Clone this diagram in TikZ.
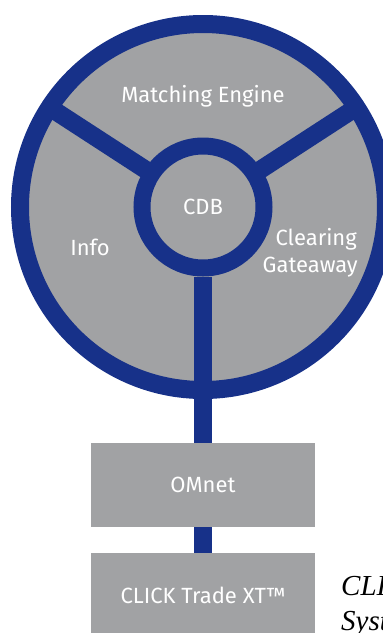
\documentclass[tikz,border=0pt]{standalone}
\usepackage{fontspec}
\setmainfont{Fira Sans}
\newfontfamily\capfont{Liberation Serif}
\definecolor{ringblue}{RGB}{23,49,137}
\definecolor{segray}{RGB}{161,162,164}
\begin{document}
\begin{tikzpicture}[x=1pt,y=1pt,
  lbl/.style={text=white,font=\fontsize{22}{27}\selectfont,inner sep=0pt},
  boxnode/.style={rectangle,fill=segray,minimum width=224pt,minimum height=84pt,text=white,font=\fontsize{22}{27}\selectfont},
  bar/.style={draw=ringblue,line width=18pt},
  caption/.style={anchor=base west,inner sep=0pt,font=\capfont\itshape\fontsize{29}{35}\selectfont}]
\useasboundingbox (0,0) rectangle (383,-633);
\clip (0,0) rectangle (383,-633);
\coordinate (ctr) at (203,-207);
% wheel fill
\fill[segray] (ctr) circle (183);
% spokes
\path (ctr) ++(147:183) coordinate (L);
\path (ctr) ++(33:183) coordinate (R);
\draw[bar] (ctr) -- (L);
\draw[bar] (ctr) -- (R);
% outer ring
\draw[ringblue,line width=18pt] (ctr) circle (183);
% boxes
\node[boxnode] (omnet) at (203,-485) {OMnet};
\node[boxnode] (click) at (203,-595) {CLICK Trade XT™};
% centre circle
\node[circle,draw=ringblue,line width=17pt,fill=segray,minimum size=122pt,inner sep=0pt,text=white,font=\fontsize{22}{27}\selectfont] (cdb) at (ctr) {CDB};
\draw[bar] (cdb.south) -- (omnet.north);
\draw[bar] (omnet.south) -- (click.north);
% labels
\node[lbl,anchor=base] (me) at (203,-102) {Matching Engine};
\node[lbl,anchor=base] (info) at (90,-255) {Info};
\node[lbl,anchor=base east] (cg1) at (357,-245) {Clearing};
\node[lbl,anchor=base east] (cg2) at (358,-272) {Gateaway};
% caption
\node[caption] (cap1) at (341,-595) {CLICK};
\node[caption] (cap2) at (341,-630) {System};
\end{tikzpicture}
\end{document}
